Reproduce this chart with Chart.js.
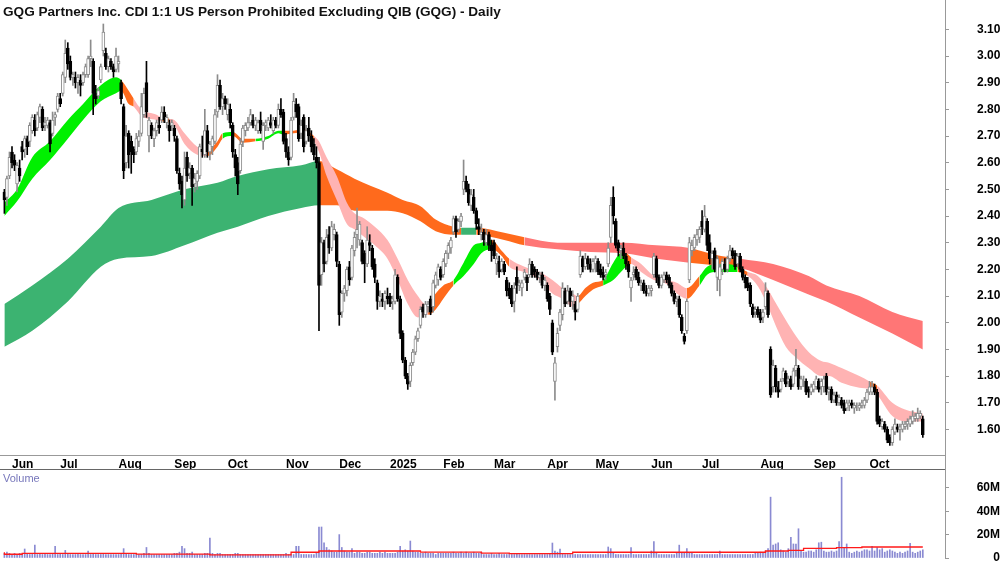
<!DOCTYPE html>
<html>
<head>
<meta charset="utf-8">
<title>GQG - Daily</title>
<script src="https://cdn.jsdelivr.net/npm/chart.js@4.4.1/dist/chart.umd.min.js"></script>
<style>
  html, body { margin: 0; padding: 0; background: #fff; }
  #wrap { position: relative; width: 1000px; height: 562px; overflow: hidden; font-family: "Liberation Sans", Arial, sans-serif; }
  #price { position: absolute; left: 0; top: 0; }
  #vol { position: absolute; left: 0; top: 470px; }
  #title { position: absolute; left: 3px; top: 4px; font-size: 13.6px; font-weight: bold; color: #111; white-space: nowrap; }
  #vlabel { position: absolute; left: 3px; top: 472px; font-size: 11px; color: #7777bb; }
  #sep { position: absolute; left: 0; top: 469px; width: 945px; height: 1px; background: #666; }
  #rline { position: absolute; left: 945px; top: 455px; width: 1px; height: 15px; background: #999; }
</style>
</head>
<body>
<div id="wrap">
  <canvas id="price" width="1000" height="469"></canvas>
  <div id="sep"></div>
  <div id="rline"></div>
  <canvas id="vol" width="1000" height="92"></canvas>
  <div id="title">GQG Partners Inc. CDI 1:1 US Person Prohibited Excluding QIB (GQG) - Daily</div>
  <div id="vlabel">Volume</div>
</div>
<script>
// month ticks (bar index of first trading day) and their labels
const monthIdx = [3, 22, 45, 67, 88, 111, 132, 152, 173, 193, 214, 233, 255, 275, 298, 319, 341];
const monthLabels = ['Jun', 'Jul', 'Aug', 'Sep', 'Oct', 'Nov', 'Dec', '2025', 'Feb', 'Mar', 'Apr', 'May', 'Jun', 'Jul', 'Aug', 'Sep', 'Oct'];
const priceTicks = [1.6, 1.7, 1.8, 1.9, 2.0, 2.1, 2.2, 2.3, 2.4, 2.5, 2.6, 2.7, 2.8, 2.9, 3.0, 3.1];
const volTicks = [0, 20, 40, 60];

// daily bars [open, high, low, close]
const ohlc = [
  // late May 2024
  [2.49,2.50,2.41,2.46],[2.47,2.55,2.44,2.54],[2.55,2.64,2.54,2.62],
  // Jun
  [2.64,2.66,2.58,2.60],[2.61,2.63,2.57,2.59],[2.52,2.60,2.49,2.59],[2.58,2.61,2.53,2.55],[2.66,2.68,2.61,2.64],
  [2.65,2.70,2.62,2.69],[2.69,2.70,2.63,2.66],[2.68,2.75,2.66,2.74],[2.72,2.78,2.71,2.77],[2.76,2.78,2.70,2.72],
  [2.73,2.79,2.72,2.78],[2.77,2.82,2.75,2.81],[2.80,2.81,2.72,2.73],[2.74,2.77,2.72,2.75],[2.74,2.77,2.73,2.76],
  [2.75,2.76,2.64,2.67],[2.71,2.79,2.70,2.76],[2.77,2.79,2.74,2.78],[2.80,2.86,2.79,2.85],
  // Jul
  [2.84,2.86,2.81,2.82],[2.86,2.94,2.85,2.93],[2.92,3.06,2.90,3.01],[3.03,3.05,2.95,2.97],[2.98,3.00,2.91,2.92],
  [2.92,2.94,2.89,2.93],[2.92,2.94,2.88,2.90],[2.90,2.93,2.86,2.92],[2.91,2.93,2.85,2.89],[2.90,2.94,2.89,2.93],
  [2.93,2.97,2.92,2.96],[2.93,3.00,2.92,2.99],[2.99,3.06,2.96,3.00],[2.98,2.99,2.78,2.86],[2.86,2.89,2.82,2.84],
  [2.85,2.88,2.84,2.87],[2.91,2.97,2.90,2.96],[3.02,3.12,3.00,3.09],[3.01,3.03,2.95,2.96],[2.96,3.00,2.94,2.99],
  [2.98,2.99,2.95,2.96],[2.96,2.97,2.92,2.94],[2.95,3.03,2.94,3.00],
  // Aug
  [2.97,3.00,2.94,2.98],[2.90,2.91,2.82,2.84],[2.81,2.82,2.54,2.57],[2.60,2.74,2.58,2.70],[2.71,2.72,2.58,2.63],
  [2.68,2.70,2.56,2.64],[2.65,2.66,2.60,2.63],[2.64,2.71,2.63,2.69],[2.68,2.72,2.66,2.70],[2.71,2.86,2.70,2.81],
  [2.78,2.88,2.77,2.86],[2.90,2.98,2.77,2.79],[2.70,2.77,2.64,2.76],[2.74,2.75,2.69,2.70],[2.69,2.73,2.66,2.72],
  [2.72,2.76,2.70,2.75],[2.74,2.77,2.71,2.73],[2.76,2.81,2.75,2.79],[2.79,2.81,2.75,2.76],[2.75,2.78,2.73,2.77],
  [2.74,2.76,2.68,2.72],[2.74,2.76,2.72,2.75],
  // Sep
  [2.73,2.74,2.68,2.70],[2.69,2.70,2.56,2.57],[2.56,2.58,2.50,2.52],[2.53,2.55,2.43,2.48],[2.46,2.64,2.44,2.58],
  [2.62,2.64,2.53,2.55],[2.56,2.60,2.54,2.58],[2.58,2.59,2.44,2.51],[2.52,2.56,2.49,2.54],[2.53,2.57,2.50,2.56],
  [2.55,2.67,2.54,2.66],[2.65,2.70,2.62,2.64],[2.63,2.80,2.62,2.72],[2.72,2.74,2.62,2.64],[2.64,2.68,2.61,2.67],
  [2.66,2.70,2.63,2.69],[2.68,2.80,2.67,2.78],[2.79,2.93,2.77,2.89],[2.89,2.91,2.80,2.81],[2.81,2.86,2.78,2.84],
  [2.84,2.85,2.80,2.82],
  // Oct
  [2.78,2.84,2.76,2.82],[2.80,2.82,2.73,2.75],[2.74,2.75,2.62,2.64],[2.63,2.65,2.55,2.58],[2.60,2.62,2.48,2.52],
  [2.57,2.69,2.56,2.67],[2.68,2.74,2.66,2.73],[2.72,2.75,2.70,2.74],[2.73,2.77,2.72,2.75],[2.75,2.80,2.74,2.78],
  [2.76,2.78,2.73,2.74],[2.74,2.77,2.72,2.76],[2.72,2.76,2.71,2.75],[2.76,2.79,2.71,2.72],[2.68,2.75,2.65,2.74],
  [2.74,2.76,2.72,2.75],[2.73,2.77,2.72,2.76],[2.75,2.78,2.73,2.74],[2.72,2.77,2.71,2.76],[2.76,2.77,2.73,2.74],
  [2.74,2.82,2.73,2.80],[2.80,2.84,2.77,2.78],[2.79,2.80,2.67,2.68],
  // Nov
  [2.69,2.71,2.62,2.64],[2.64,2.66,2.59,2.61],[2.62,2.77,2.61,2.76],[2.77,2.86,2.76,2.83],[2.82,2.84,2.77,2.79],
  [2.81,2.82,2.68,2.69],[2.71,2.76,2.69,2.74],[2.77,2.78,2.64,2.66],[2.68,2.74,2.67,2.72],[2.73,2.77,2.68,2.70],
  [2.70,2.72,2.64,2.66],[2.67,2.69,2.61,2.63],[2.62,2.66,2.58,2.60],[2.60,2.62,1.97,2.14],[2.18,2.32,2.14,2.30],
  [2.30,2.31,2.19,2.22],[2.23,2.35,2.22,2.32],[2.33,2.36,2.26,2.28],[2.28,2.38,2.27,2.36],[2.33,2.37,2.31,2.35],
  [2.33,2.34,2.21,2.23],
  // Dec
  [2.22,2.23,1.99,2.03],[2.04,2.12,2.02,2.11],[2.11,2.14,2.08,2.13],[2.12,2.21,2.10,2.20],[2.21,2.23,2.14,2.16],
  [2.17,2.29,2.16,2.28],[2.27,2.34,2.25,2.32],[2.33,2.43,2.28,2.35],[2.31,2.38,2.29,2.37],[2.30,2.31,2.22,2.23],
  [2.26,2.27,2.15,2.22],[2.22,2.36,2.21,2.31],[2.30,2.33,2.27,2.29],[2.28,2.29,2.20,2.21],[2.22,2.24,2.15,2.17],
  [2.15,2.16,2.05,2.08],[2.08,2.12,2.06,2.10],[2.09,2.11,2.06,2.08],[2.08,2.12,2.05,2.11],[2.10,2.13,2.07,2.09],
  // Jan 2025
  [2.10,2.11,2.06,2.07],[2.08,2.10,2.05,2.09],[2.08,2.20,2.07,2.18],[2.17,2.18,2.08,2.09],[2.09,2.10,1.94,1.96],
  [1.96,1.97,1.85,1.86],[1.86,1.87,1.79,1.80],[1.80,1.81,1.75,1.77],[1.78,1.85,1.76,1.84],[1.85,1.90,1.84,1.89],
  [1.89,1.95,1.88,1.94],[1.94,1.98,1.93,1.97],[1.99,2.06,1.98,2.05],[2.06,2.07,2.02,2.04],[2.03,2.08,2.02,2.07],
  [2.06,2.08,2.04,2.07],[2.09,2.10,2.03,2.04],[2.06,2.16,2.04,2.15],[2.14,2.19,2.13,2.18],[2.16,2.22,2.14,2.21],
  [2.20,2.21,2.16,2.17],
  // Feb
  [2.18,2.24,2.17,2.23],[2.22,2.27,2.21,2.26],[2.26,2.30,2.24,2.29],[2.28,2.32,2.26,2.31],[2.34,2.40,2.33,2.39],
  [2.39,2.40,2.32,2.34],[2.35,2.39,2.34,2.38],[2.38,2.41,2.36,2.40],[2.50,2.61,2.48,2.53],[2.53,2.55,2.49,2.50],
  [2.50,2.52,2.44,2.45],[2.44,2.50,2.42,2.48],[2.47,2.50,2.41,2.42],[2.42,2.43,2.35,2.37],[2.36,2.39,2.33,2.35],
  [2.33,2.37,2.31,2.34],[2.34,2.35,2.29,2.31],[2.30,2.35,2.29,2.33],[2.33,2.34,2.27,2.29],[2.29,2.31,2.23,2.27],
  // Mar
  [2.30,2.31,2.24,2.25],[2.22,2.26,2.18,2.24],[2.23,2.25,2.17,2.19],[2.20,2.24,2.19,2.23],[2.22,2.23,2.18,2.19],
  [2.16,2.17,2.10,2.12],[2.13,2.15,2.09,2.10],[2.13,2.14,2.06,2.07],[2.08,2.15,2.04,2.13],[2.17,2.21,2.11,2.14],
  [2.14,2.16,2.12,2.15],[2.13,2.16,2.10,2.15],[2.17,2.20,2.16,2.19],[2.17,2.18,2.12,2.15],[2.18,2.24,2.17,2.22],
  [2.22,2.23,2.17,2.18],[2.20,2.21,2.17,2.19],[2.19,2.20,2.16,2.17],[2.17,2.19,2.15,2.18],[2.18,2.19,2.13,2.14],
  [2.14,2.17,2.12,2.16],
  // Apr
  [2.14,2.15,2.08,2.09],[2.10,2.11,2.03,2.05],[2.00,2.01,1.88,1.89],[1.78,1.87,1.71,1.85],[1.91,1.98,1.89,1.96],
  [1.99,2.05,1.97,2.04],[2.03,2.15,2.01,2.13],[2.12,2.13,2.06,2.07],[2.08,2.14,2.07,2.12],[2.12,2.13,2.06,2.08],
  [2.08,2.12,2.05,2.10],[2.07,2.08,2.01,2.04],[2.05,2.11,2.04,2.10],[2.18,2.27,2.17,2.25],[2.24,2.25,2.19,2.21],
  [2.21,2.26,2.20,2.24],[2.24,2.25,2.20,2.22],[2.22,2.24,2.19,2.20],[2.20,2.24,2.19,2.23],
  // May
  [2.22,2.25,2.19,2.24],[2.23,2.24,2.18,2.19],[2.20,2.22,2.17,2.18],[2.19,2.21,2.16,2.17],[2.18,2.20,2.16,2.19],
  [2.22,2.30,2.21,2.28],[2.32,2.47,2.30,2.44],[2.47,2.51,2.37,2.40],[2.38,2.39,2.28,2.29],[2.30,2.31,2.25,2.27],
  [2.27,2.29,2.24,2.28],[2.28,2.30,2.24,2.25],[2.25,2.26,2.20,2.22],[2.22,2.23,2.17,2.19],[2.13,2.17,2.08,2.16],
  [2.18,2.21,2.16,2.19],[2.20,2.21,2.16,2.17],[2.17,2.19,2.14,2.15],[2.14,2.16,2.12,2.15],[2.15,2.16,2.11,2.12],
  [2.12,2.14,2.10,2.11],[2.11,2.14,2.10,2.13],
  // Jun
  [2.12,2.14,2.10,2.13],[2.18,2.26,2.17,2.25],[2.24,2.25,2.15,2.17],[2.17,2.18,2.13,2.14],[2.14,2.18,2.13,2.17],
  [2.16,2.19,2.15,2.18],[2.18,2.19,2.15,2.16],[2.17,2.18,2.13,2.14],[2.14,2.15,2.10,2.11],[2.11,2.12,2.07,2.08],
  [2.08,2.10,2.06,2.09],[2.09,2.10,2.02,2.03],[2.02,2.03,1.96,1.97],[1.95,1.96,1.92,1.93],[1.97,2.09,1.96,2.08],
  [2.16,2.32,2.15,2.30],[2.27,2.31,2.25,2.29],[2.28,2.33,2.27,2.32],[2.31,2.35,2.29,2.33],[2.32,2.36,2.30,2.35],
  // Jul
  [2.38,2.42,2.33,2.36],[2.35,2.44,2.34,2.40],[2.38,2.39,2.27,2.29],[2.30,2.33,2.22,2.24],[2.24,2.27,2.20,2.26],
  [2.27,2.28,2.19,2.20],[2.17,2.25,2.12,2.24],[2.16,2.22,2.10,2.21],[2.20,2.24,2.18,2.23],[2.22,2.24,2.19,2.20],
  [2.20,2.25,2.19,2.24],[2.24,2.29,2.23,2.27],[2.27,2.28,2.24,2.25],[2.26,2.27,2.20,2.21],[2.22,2.26,2.21,2.25],
  [2.25,2.26,2.19,2.20],[2.20,2.21,2.16,2.17],[2.17,2.18,2.13,2.15],[2.15,2.17,2.12,2.13],[2.14,2.15,2.06,2.07],
  [2.06,2.07,2.02,2.03],[2.04,2.06,2.02,2.05],[2.05,2.06,2.02,2.03],
  // Aug
  [2.04,2.05,2.00,2.01],[2.02,2.05,2.00,2.04],[2.06,2.15,2.05,2.12],[2.11,2.12,2.02,2.03],[1.90,1.91,1.72,1.73],
  [1.76,1.86,1.74,1.84],[1.83,1.84,1.74,1.76],[1.76,1.78,1.72,1.74],[1.75,1.79,1.74,1.78],[1.79,1.83,1.78,1.82],
  [1.81,1.82,1.76,1.77],[1.78,1.80,1.76,1.79],[1.79,1.80,1.75,1.76],[1.77,1.83,1.76,1.82],[1.82,1.90,1.80,1.84],
  [1.83,1.84,1.75,1.76],[1.76,1.80,1.75,1.79],[1.78,1.80,1.76,1.78],[1.78,1.79,1.73,1.74],[1.75,1.76,1.72,1.74],
  [1.74,1.77,1.73,1.76],
  // Sep
  [1.75,1.78,1.74,1.77],[1.76,1.80,1.75,1.79],[1.78,1.79,1.74,1.75],[1.76,1.79,1.73,1.78],[1.76,1.80,1.74,1.79],
  [1.80,1.81,1.73,1.74],[1.74,1.76,1.71,1.75],[1.75,1.76,1.70,1.71],[1.71,1.74,1.70,1.73],[1.73,1.74,1.69,1.70],
  [1.70,1.73,1.69,1.72],[1.71,1.72,1.68,1.69],[1.70,1.71,1.66,1.67],[1.68,1.71,1.67,1.70],[1.69,1.71,1.67,1.70],
  [1.70,1.71,1.68,1.69],[1.68,1.70,1.66,1.69],[1.68,1.70,1.67,1.68],[1.68,1.70,1.67,1.69],[1.69,1.71,1.68,1.70],
  [1.69,1.72,1.68,1.71],[1.71,1.75,1.70,1.74],
  // Oct
  [1.74,1.78,1.73,1.76],[1.74,1.78,1.73,1.76],[1.76,1.77,1.73,1.74],[1.74,1.75,1.62,1.63],[1.64,1.65,1.61,1.62],
  [1.61,1.64,1.60,1.63],[1.62,1.63,1.59,1.60],[1.60,1.61,1.55,1.56],[1.57,1.58,1.54,1.55],[1.55,1.61,1.54,1.60],
  [1.59,1.64,1.58,1.62],[1.61,1.62,1.59,1.60],[1.60,1.62,1.56,1.61],[1.60,1.63,1.59,1.62],[1.61,1.63,1.60,1.62],
  [1.62,1.64,1.60,1.63],[1.62,1.65,1.61,1.64],[1.63,1.67,1.62,1.65],[1.64,1.66,1.63,1.65],[1.64,1.68,1.63,1.66],
  [1.65,1.67,1.64,1.66],[1.64,1.65,1.57,1.58]
];

// daily volume, millions of shares
const volume = [
  4,5,4,3,4,3,4,3,7.7,4,3,4,11,3,4,3,4,3,3,4,
  10,3,4,3,6.5,4,3,3,3,4,3,3,3,6,3,4,3,3,3,4,
  3,3,3,3,3,3,4,8,4,3,3,3,3,3,3,4,9,4,3,3,
  3,3,3,3,3,3,3,4,4,5,10,8,4,4,5,3,3,3,3,4,
  4,17,4,3,4,4,3,3,3,3,3,4,4,3,3,3,3,3,3,3,
  3,3,3,3,3,3,3,3,3,3,3,4,3,3,3,10,10,3,3,3,
  3,3,3,4,26.5,26.5,13,9,7,6,5,5,20,9,6,5,5,8,4,5,
  5,4,4,5,5,4,4,4,5,4,5,4,4,4,4,5,10,6,7,6,
  14.5,6,5,5,4,4,5,4,4,4,3,4,4,4,4,4,4,5,4,4,
  5,4,5,4,4,5,4,4,5,3,3,3,4,3,3,4,3,3,3,3,
  3,3,4,3,3,3,3,3,3,3,3,3,3,3,3,4,12.8,6,5,7.6,
  4,3,3,3,3,3,3,3,3,3,3,3,3,3,3,3,3,3,9.4,8,
  4,3,3,3,3,3,3,8.8,3,3,3,3,3,3,3,6,14,4,3,3,
  3,3,3,3,3,4,11,4,4,8,4,4,3,3,3,3,3,3,3,3,
  3,3,6,3,3,3,3,3,3,3,3,3,3,3,3,3,4,4,5,4,
  6,8,52,11,12,13,7,6,5,8,17.6,12,12,25,6,5,5,6,6,5,
  7,13,13.5,6,5,5,6,5,6,14,69,9,12,5,4,5,6,5,6,7,
  7,6,10,6,9,7,8,5,6,7,6,5,4,5,4,5,6,12.5,5,4,5,6,7
];

// volume average, value from that bar on
const volAvgIdx = [0, 7, 52, 81, 113, 124, 164, 188, 199, 224, 300, 309, 315, 328, 338, 349, 362];
const volAvg = [4.9, 3.2, 3.9, 3.3, 2.6, 4.9, 6.0, 5.0, 4.1, 3.7, 4.9, 6.0, 6.6, 8.3, 8.8, 9.4, 9.4];

// short-term ribbon: [bar, upper, lower, trend]
const shortRibbon = [
  [0,2.45,2.40,'up'],[5,2.50,2.455,'up'],[11,2.62,2.54,'up'],[18,2.68,2.61,'up'],[25,2.76,2.69,'up'],
  [31,2.82,2.76,'up'],[38,2.89,2.83,'up'],[44,2.92,2.86,'up'],[46,2.91,2.87,'turn'],[49,2.87,2.82,'turn'],
  [51,2.84,2.81,'down'],[54,2.80,2.775,'down'],[60,2.78,2.76,'down'],[62,2.77,2.755,'turn'],[65,2.765,2.75,'down'],
  [67,2.76,2.74,'down'],[71,2.71,2.67,'down'],[76,2.66,2.63,'down'],[80,2.65,2.625,'turn'],[84,2.68,2.66,'turn'],
  [86,2.71,2.69,'up'],[90,2.715,2.70,'turn'],[94,2.69,2.675,'turn'],[99,2.69,2.68,'up'],[104,2.70,2.69,'up'],
  [108,2.72,2.71,'up'],[110,2.72,2.705,'turn'],[114,2.72,2.71,'turn'],[118,2.725,2.715,'turn'],[122,2.70,2.68,'down'],
  [124,2.68,2.64,'down'],[127,2.62,2.55,'down'],[131,2.55,2.46,'down'],[135,2.45,2.37,'down'],[138,2.41,2.35,'down'],
  [142,2.39,2.32,'down'],[146,2.36,2.29,'down'],[151,2.31,2.24,'down'],[155,2.24,2.16,'down'],[159,2.16,2.07,'down'],
  [163,2.10,2.02,'down'],[166,2.07,2.03,'down'],[167,2.07,2.03,'turn'],[170,2.11,2.05,'turn'],[173,2.14,2.09,'turn'],
  [177,2.16,2.14,'up'],[181,2.225,2.175,'up'],[185,2.29,2.22,'up'],[188,2.30,2.26,'up'],[192,2.31,2.275,'turn'],
  [196,2.27,2.25,'turn'],[199,2.24,2.21,'down'],[205,2.21,2.19,'down'],[211,2.19,2.16,'down'],[216,2.16,2.11,'down'],
  [220,2.13,2.09,'down'],[224,2.11,2.06,'down'],[226,2.10,2.07,'turn'],[229,2.13,2.10,'turn'],[232,2.15,2.125,'turn'],
  [236,2.16,2.14,'up'],[240,2.225,2.16,'up'],[243,2.26,2.19,'up'],[245,2.26,2.21,'turn'],[247,2.245,2.22,'down'],
  [251,2.22,2.19,'down'],[256,2.175,2.16,'down'],[261,2.16,2.145,'down'],[265,2.15,2.11,'down'],[269,2.13,2.09,'turn'],
  [274,2.175,2.14,'up'],[277,2.21,2.18,'up'],[281,2.22,2.19,'up'],[285,2.22,2.19,'up'],[289,2.21,2.19,'turn'],
  [293,2.19,2.175,'down'],[297,2.175,2.137,'down'],[301,2.125,2.06,'down'],[304,2.075,1.99,'down'],[308,2.01,1.91,'down'],
  [312,1.95,1.87,'down'],[317,1.89,1.83,'down'],[322,1.856,1.80,'down'],[325,1.85,1.80,'down'],[330,1.83,1.775,'down'],
  [337,1.80,1.756,'down'],[341,1.78,1.75,'turn'],[344,1.765,1.73,'down'],[350,1.70,1.65,'down'],[355,1.675,1.63,'down'],
  [362,1.66,1.63,'down']
];

// long-term ribbon: [bar, upper, lower, trend]
const longRibbon = [
  [0,2.07,1.91,'up'],[11,2.14,1.97,'up'],[25,2.24,2.08,'up'],[38,2.36,2.21,'up'],[45,2.43,2.24,'up'],
  [58,2.46,2.25,'up'],[71,2.50,2.29,'up'],[84,2.525,2.337,'up'],[92,2.55,2.36,'up'],[104,2.575,2.40,'up'],
  [117,2.59,2.43,'up'],[124,2.606,2.44,'turn'],[131,2.575,2.44,'turn'],[138,2.54,2.42,'turn'],[151,2.487,2.42,'turn'],
  [157,2.46,2.41,'turn'],[164,2.437,2.38,'turn'],[170,2.387,2.343,'turn'],[177,2.36,2.33,'turn'],[180,2.356,2.33,'up'],
  [186,2.356,2.33,'turn'],[197,2.337,2.31,'turn'],[205,2.32,2.29,'down'],[218,2.30,2.275,'down'],[231,2.30,2.265,'down'],
  [244,2.30,2.26,'down'],[257,2.29,2.24,'down'],[270,2.28,2.225,'turn'],[280,2.255,2.215,'turn'],[290,2.24,2.205,'down'],
  [303,2.22,2.16,'down'],[317,2.175,2.106,'down'],[324,2.14,2.08,'down'],[337,2.10,2.02,'down'],[350,2.04,1.96,'down'],
  [362,2.006,1.90,'down']
];

const shortColors = { up: '#00f000', turn: '#ff6a1c', down: '#ffb3b3' };
const longColors = { up: '#3cb371', turn: '#ff6a1c', down: '#ff7676' };

// x range so that bar 0 sits a few pixels in from the left edge
const xMin = -1.73, xMax = 370.75;
const priceMin = 1.504, priceMax = 3.21;

Chart.defaults.font.family = '"Liberation Sans", Arial, sans-serif';
Chart.defaults.color = '#000';

const isUp = d => d[3] >= d[0];

function ribbon(rows, colors, order) {
  return [
    {
      type: 'line',
      data: rows.map(r => ({ x: r[0], y: r[1] })),
      borderColor: 'rgba(0,0,0,0)',
      borderWidth: 0,
      pointRadius: 0,
      cubicInterpolationMode: 'monotone',
      backgroundColor: colors[rows[0][3]],
      fill: '+1',
      segment: { backgroundColor: c => colors[rows[c.p0DataIndex][3]] },
      order
    },
    {
      type: 'line',
      data: rows.map(r => ({ x: r[0], y: r[2] })),
      borderColor: 'rgba(0,0,0,0)',
      borderWidth: 0,
      pointRadius: 0,
      cubicInterpolationMode: 'monotone',
      fill: false,
      order
    }
  ];
}

function noPad(s) {
  s.paddingTop = 0; s.paddingBottom = 0; s.paddingLeft = 0; s.paddingRight = 0;
}

new Chart(document.getElementById('price'), {
  type: 'bar',
  data: {
    datasets: [
      {
        label: 'body',
        data: ohlc.map((d, i) => ({ x: i, y: [d[0], d[3]] })),
        backgroundColor: ohlc.map(d => isUp(d) ? '#ffffff' : '#000000'),
        borderColor: ohlc.map(d => isUp(d) ? '#8c8c8c' : '#000000'),
        borderWidth: 1,
        borderSkipped: false,
        barThickness: 3,
        grouped: false,
        order: 0
      },
      {
        label: 'range',
        data: ohlc.map((d, i) => ({ x: i, y: [d[2], d[1]] })),
        backgroundColor: ohlc.map(d => isUp(d) ? '#8c8c8c' : '#000000'),
        barThickness: 1,
        grouped: false,
        order: 1
      },
      ...ribbon(shortRibbon, shortColors, 3),
      ...ribbon(longRibbon, longColors, 4)
    ]
  },
  options: {
    responsive: false,
    animation: false,
    layout: { padding: 0 },
    plugins: { legend: { display: false }, tooltip: { enabled: false } },
    scales: {
      x: {
        type: 'linear', min: xMin, max: xMax, offset: false,
        afterBuildTicks: s => { s.ticks = monthIdx.map(v => ({ value: v })); },
        afterFit: s => { s.height = 14; noPad(s); },
        ticks: {
          autoSkip: false, maxRotation: 0, align: 'start', padding: 2,
          font: { size: 12, weight: 'bold' }, color: '#000',
          callback: (v, i) => monthLabels[i]
        },
        grid: { drawOnChartArea: false, drawTicks: false },
        border: { color: '#999' }
      },
      y: {
        type: 'linear', position: 'right', min: priceMin, max: priceMax,
        afterBuildTicks: s => { s.ticks = priceTicks.map(v => ({ value: v })); },
        afterFit: s => { s.width = 55; noPad(s); },
        ticks: {
          padding: 28, font: { size: 12, weight: 'bold' }, color: '#000',
          callback: v => v.toFixed(2)
        },
        grid: { drawOnChartArea: false, tickLength: 4, color: '#999' },
        border: { color: '#999' }
      }
    }
  }
});

new Chart(document.getElementById('vol'), {
  type: 'bar',
  data: {
    datasets: [
      {
        type: 'line',
        data: volAvgIdx.map((x, k) => ({ x, y: volAvg[k] })),
        borderColor: '#ff1a1a',
        borderWidth: 1.3,
        pointRadius: 0,
        stepped: 'after',
        fill: false,
        order: 0
      },
      {
        data: volume.map((v, i) => ({ x: i, y: v })),
        backgroundColor: '#8a8ad2',
        barThickness: 1,
        grouped: false,
        order: 1
      }
    ]
  },
  options: {
    responsive: false,
    animation: false,
    layout: { padding: { bottom: 4 } },
    plugins: { legend: { display: false }, tooltip: { enabled: false } },
    scales: {
      x: { type: 'linear', min: xMin, max: xMax, offset: false, display: false },
      y: {
        type: 'linear', position: 'right', min: 0, max: 75.2,
        afterBuildTicks: s => { s.ticks = volTicks.map(v => ({ value: v })); },
        afterFit: s => { s.width = 55; noPad(s); },
        ticks: {
          crossAlign: 'far', padding: 16, font: { size: 12, weight: 'bold' }, color: '#000',
          callback: v => v === 0 ? '0' : v + 'M'
        },
        grid: { drawOnChartArea: false, tickLength: 4, color: '#999' },
        border: { color: '#999' }
      }
    }
  }
});
</script>
</body>
</html>
